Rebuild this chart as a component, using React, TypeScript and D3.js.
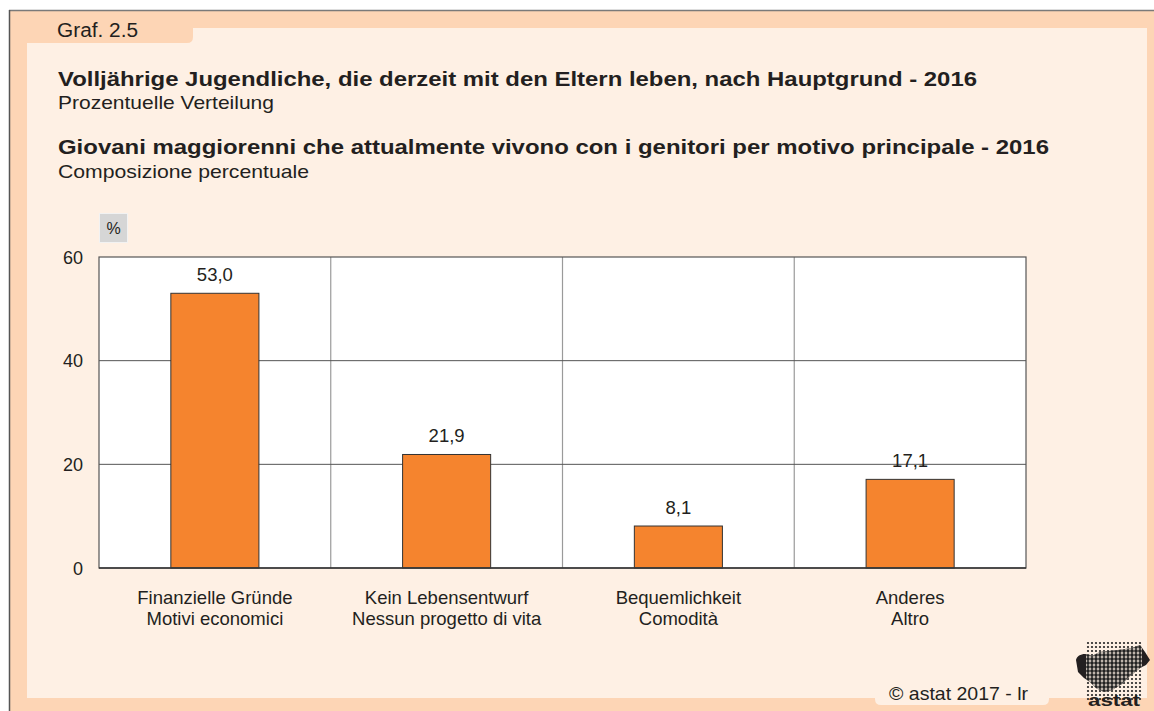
import React from "react";
import * as d3 from "d3";

const categoriesDe = ["Finanzielle Gründe", "Kein Lebensentwurf", "Bequemlichkeit", "Anderes"];
const categoriesIt = ["Motivi economici", "Nessun progetto di vita", "Comodità", "Altro"];
const values = [53.0, 21.9, 8.1, 17.1];
const yTicks = [0, 20, 40, 60];

const W = 1154;
const H = 711;
const FONT = "'Liberation Sans', Arial, Helvetica, sans-serif";
const PEACH = "#FDD5B5";
const LIGHT = "#FEF0E4";
const BAR = "#F5842E";
const TXT = "#231f20";

const fmt = (v: number) => v.toFixed(1).replace(".", ",");

const BLOB =
  "M1076,660 C1077,654 1086,652 1092,656 L1100,652 L1118,650 L1132,648 L1140,645 L1145,652 L1150,660 L1146,665 L1140,668 L1130,676 L1122,684 L1112,690 L1104,692 L1096,688 L1090,682 L1084,678 L1078,672 Z";

export default function App() {
  const left = 99, right = 1026, top = 257, bottom = 568;
  const x = d3.scaleBand<number>().domain(d3.range(values.length)).range([left, right]).padding(0);
  const y = d3.scaleLinear().domain([0, 60]).range([bottom, top]);
  const bw = x.bandwidth();
  const barW = bw * 0.38;

  const smallDots: JSX.Element[] = [];
  const bigDots: JSX.Element[] = [];
  for (let gx = 1088; gx <= 1141; gx += 4) {
    for (let gy = 643; gy <= 699; gy += 4) {
      smallDots.push(<circle key={gx + "-" + gy} cx={gx} cy={gy} r={1.1} fill="#222" />);
      bigDots.push(<circle key={"b" + gx + "-" + gy} cx={gx} cy={gy} r={1.9} fill="#222" />);
    }
  }

  return (
    <svg width={W} height={H} style={{ position: "absolute", left: 0, top: 0, display: "block" }}
      fontFamily={FONT}>
      <defs>
        <clipPath id="blobClip">
          <path d={BLOB} />
        </clipPath>
      </defs>
      <rect x={0} y={0} width={W} height={H} fill="#fff" />
      <rect x={10} y={11} width={W - 10} height={H - 11} fill={PEACH} />
      <line x1={9} y1={10.5} x2={W} y2={10.5} stroke="#7a7a7a" strokeWidth={1.5} />
      <line x1={9.5} y1={10} x2={9.5} y2={H} stroke="#555" strokeWidth={1.5} />
      <path
        d={`M27,43 L187,43 Q193,43 193,37 L193,28 L1147,28 L1147,698 L27,698 Z`}
        fill={LIGHT}
      />
      <path d="M875,690 L1049,690 L1049,699 Q1049,705 1043,705 L881,705 Q875,705 875,699 Z" fill={LIGHT} />

      <text x={57} y={37} fontSize={20} fill={TXT} textLength={81} lengthAdjust="spacingAndGlyphs">Graf. 2.5</text>

      <text x={58} y={86} fontSize={21} fontWeight="bold" fill={TXT} textLength={919} lengthAdjust="spacingAndGlyphs">
        Volljährige Jugendliche, die derzeit mit den Eltern leben, nach Hauptgrund - 2016
      </text>
      <text x={58} y={109} fontSize={18.5} fill={TXT} textLength={216} lengthAdjust="spacingAndGlyphs">
        Prozentuelle Verteilung
      </text>
      <text x={58} y={154} fontSize={21} fontWeight="bold" fill={TXT} textLength={991} lengthAdjust="spacingAndGlyphs">
        Giovani maggiorenni che attualmente vivono con i genitori per motivo principale - 2016
      </text>
      <text x={58} y={178} fontSize={18.5} fill={TXT} textLength={251} lengthAdjust="spacingAndGlyphs">
        Composizione percentuale
      </text>

      <rect x={99.5} y={213.5} width={28} height={29} fill="#d6d6d6" stroke="#f2f2f2" strokeWidth={1} />
      <text x={113.5} y={234} fontSize={16} textAnchor="middle" fill={TXT}>%</text>

      <rect x={left} y={top} width={right - left} height={bottom - top} fill="#fff" />
      {x.domain().slice(1).map((i) => (
        <line key={"v" + i} x1={x(i)!} x2={x(i)!} y1={top} y2={bottom} stroke="#9a9a9a" strokeWidth={1.2} />
      ))}
      {yTicks.filter((t) => t > 0 && t < 60).map((t) => (
        <line key={"g" + t} x1={left} x2={right} y1={y(t)} y2={y(t)} stroke="#555" strokeWidth={1} />
      ))}
      {values.map((v, i) => (
        <rect key={"b" + i} x={x(i)! + (bw - barW) / 2} y={y(v)} width={barW} height={bottom - y(v)}
          fill={BAR} stroke="#333" strokeWidth={1} />
      ))}
      <rect x={left} y={top} width={right - left} height={bottom - top} fill="none" stroke="#555" strokeWidth={1.2} />
      <line x1={left} x2={right} y1={bottom} y2={bottom} stroke="#333" strokeWidth={1.5} />

      {values.map((v, i) => (
        <text key={"l" + i} x={x(i)! + bw / 2} y={y(v) - 12} fontSize={18.5} textAnchor="middle" fill={TXT}>
          {fmt(v)}
        </text>
      ))}
      {yTicks.map((t) => (
        <text key={"t" + t} x={83} y={y(t) + 6.5} fontSize={18} textAnchor="end" fill={TXT}>{t}</text>
      ))}
      {values.map((_, i) => (
        <g key={"c" + i}>
          <text x={x(i)! + bw / 2} y={604} fontSize={18.5} textAnchor="middle" fill={TXT}>{categoriesDe[i]}</text>
          <text x={x(i)! + bw / 2} y={625} fontSize={18.5} textAnchor="middle" fill={TXT}>{categoriesIt[i]}</text>
        </g>
      ))}

      <text x={889} y={700} fontSize={19} fill={TXT} textLength={139} lengthAdjust="spacingAndGlyphs">© astat 2017 - lr</text>

      <g>
        {smallDots}
        <path d={BLOB} fill="#231f20" />
        <g clipPath="url(#blobClip)">
          <rect x={1086} y={640} width={56} height={60} fill={LIGHT} />
          {bigDots}
        </g>
        <text x={1114} y={706} fontSize={16} fontWeight="bold" textAnchor="middle" fill="#231f20"
          textLength={52} lengthAdjust="spacingAndGlyphs">astat</text>
      </g>
    </svg>
  );
}
